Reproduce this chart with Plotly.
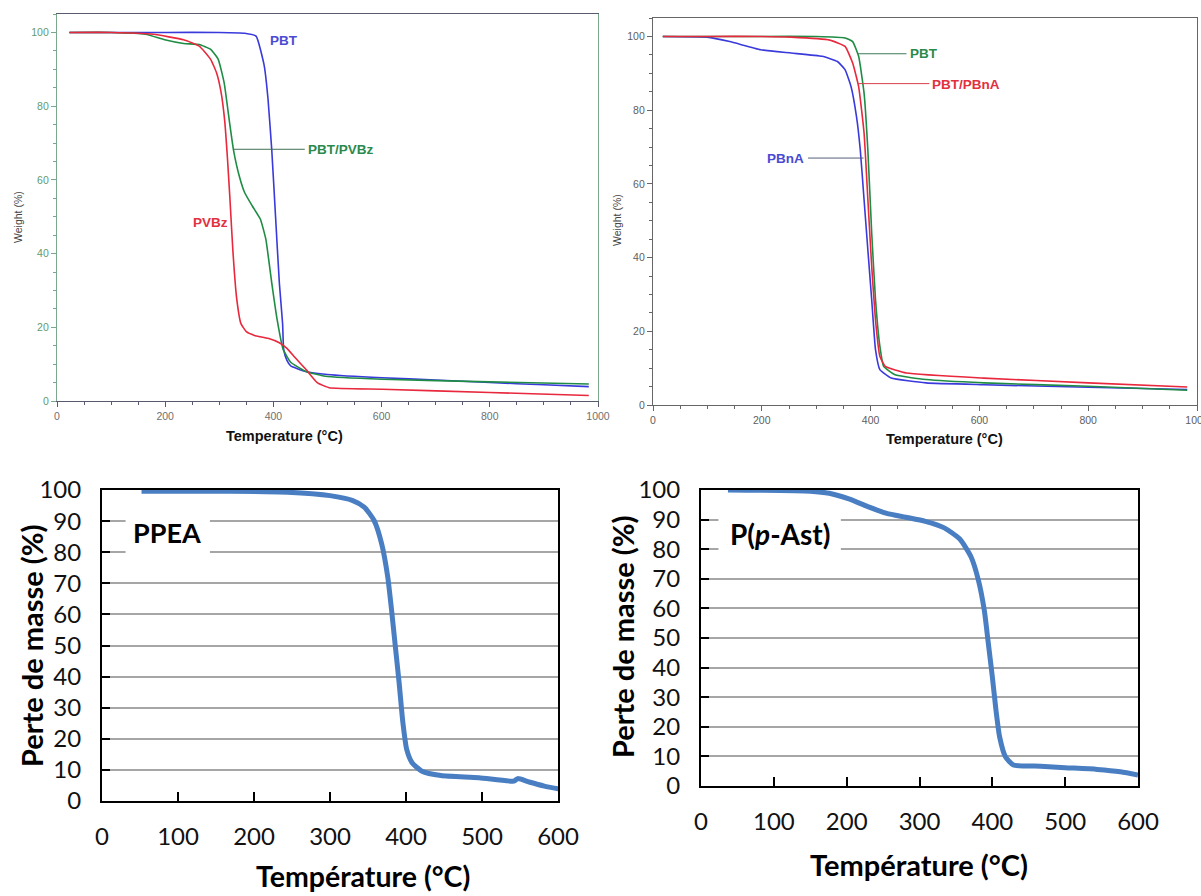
import plotly.graph_objects as go

W, H = 1201, 896

# ---------------- data ----------------
# Top-left panel
p1_pbt_T = [23, 100, 200, 300, 347, 368, 383, 390, 397, 404, 411, 417, 419, 425, 432, 460, 500, 601, 700, 800, 900, 983]
p1_pbt_W = [100, 100, 100, 100, 99.8, 99, 91, 82, 68, 50, 32, 21, 14, 11, 9.5, 8, 7.2, 6.3, 5.7, 5, 4.4, 3.9]
p1_blend_T = [23, 100, 164, 199, 234, 263, 284, 298, 309, 319, 326, 337, 347, 361, 376, 386, 397, 407, 418, 432, 460, 496, 601, 800, 983]
p1_blend_W = [100, 100, 99.5, 98, 97, 96.7, 95.4, 92.7, 86.3, 75.5, 68.3, 61, 56.5, 52.9, 49.3, 43.9, 32, 22, 14, 10.5, 8, 6.7, 5.9, 5.2, 4.6]
p1_pvbz_T = [23, 100, 178, 234, 263, 284, 295, 303, 310, 315, 320, 325, 332, 340, 350, 365, 390, 411, 425, 440, 460, 481, 503, 601, 800, 983]
p1_pvbz_W = [100, 100, 99.5, 98, 96.3, 92.7, 89, 84, 76, 66, 54, 41, 28, 21, 18.8, 17.8, 17, 15.8, 14.3, 11.8, 8.6, 5, 3.6, 3.2, 2.3, 1.5]

# Top-right panel
p2_pbt_T = [18, 100, 200, 300, 353, 367, 378, 388, 395, 402, 409, 417, 424, 445, 502, 608, 800, 982]
p2_pbt_W = [100, 100, 100, 100, 99.6, 98.6, 94.6, 84.6, 69, 46.7, 28.6, 16, 10.5, 8.2, 6.9, 6, 5.1, 4]
p2_blend_T = [18, 100, 200, 254, 325, 353, 367, 378, 388, 395, 402, 409, 417, 427, 466, 608, 800, 982]
p2_blend_W = [100, 100, 100, 99.8, 99, 97.3, 92.8, 86.4, 73.8, 55.7, 37.6, 23, 13.2, 10.5, 8.7, 7.3, 6, 4.9]
p2_pbna_T = [18, 99, 141, 198, 254, 311, 339, 353, 364, 374, 381, 388, 395, 402, 409, 417, 438, 502, 608, 800, 982]
p2_pbna_W = [100, 99.8, 98.6, 96.4, 95.5, 94.6, 93.2, 91, 86.4, 78.3, 69.3, 55.7, 42, 28.6, 15, 9.6, 7.3, 6, 5.5, 4.8, 4.2]

# Bottom-left panel (PPEA)
ppea_T = [52, 169, 244, 300, 330, 345, 358, 368, 376, 381, 386, 391, 396, 401, 408, 421, 446, 496, 542, 547, 562, 582, 601]
ppea_W = [99.6, 99.6, 99.3, 98.2, 96.6, 94.5, 90.2, 82.7, 72, 61.4, 49.6, 37.9, 25, 16.5, 12.3, 9.6, 8.2, 7.5, 6.4, 7.2, 6.1, 4.8, 3.9]

# Bottom-right panel (P(p-Ast))
past_T = [37, 150, 176, 203, 229, 255, 281, 308, 334, 355, 371, 381, 389, 394, 400, 405, 410, 418, 429, 466, 500, 544, 576, 600]
past_W = [100, 99.6, 98.9, 97, 94.4, 92.1, 90.8, 89.4, 87.2, 83.5, 77.3, 69.4, 59.3, 49.2, 36.9, 25.6, 16.6, 9.9, 7.1, 6.7, 6.2, 5.6, 4.8, 3.7]

top_xticks = [0, 200, 400, 600, 800, 1000]
top_yticks = [0, 20, 40, 60, 80, 100]
bot_xticks = [0, 100, 200, 300, 400, 500, 600]
bot_yticks = [0, 10, 20, 30, 40, 50, 60, 70, 80, 90, 100]

# ---------------- helpers ----------------
def px(x):
    return x / W

def py(y):
    return 1 - y / H

ARIAL = "Liberation Sans, Arial, sans-serif"
CAL = "Lato, Open Sans, sans-serif"

fig = go.Figure()

BLUE = "#3a3adc"
GREEN = "#1f8c45"
RED = "#e8283c"
XLBLUE = "#4a7ec2"

def line(x, y, color, xa, ya, width=1.6, smooth=0.4):
    fig.add_trace(go.Scatter(x=x, y=y, mode="lines",
                             line=dict(color=color, width=width, shape="spline", smoothing=smooth),
                             xaxis=xa, yaxis=ya, showlegend=False, hoverinfo="skip"))

line(p1_pbt_T, p1_pbt_W, BLUE, "x", "y")
line(p1_blend_T, p1_blend_W, GREEN, "x", "y")
line(p1_pvbz_T, p1_pvbz_W, RED, "x", "y")

line(p2_pbna_T, p2_pbna_W, BLUE, "x2", "y2")
line(p2_pbt_T, p2_pbt_W, GREEN, "x2", "y2")
line(p2_blend_T, p2_blend_W, RED, "x2", "y2")

line(ppea_T, ppea_W, XLBLUE, "x3", "y3", width=5, smooth=0.6)
line(past_T, past_W, XLBLUE, "x4", "y4", width=5, smooth=0.6)

def top_x(domain, ycol, lcol):
    return dict(domain=domain, range=[0, 1000], tickvals=top_xticks, ticks="outside", ticklen=5,
                tickwidth=1, tickcolor=lcol, showline=True, linecolor=lcol, linewidth=1.2, mirror=True,
                showgrid=False, zeroline=False, automargin=False, ticklabeloverflow="allow",
                tickfont=dict(family=ARIAL, size=10.5, color=ycol),
                minor=dict(dtick=50, ticks="outside", ticklen=3, tickcolor=lcol))

def top_y(domain, ycol, lcol):
    return dict(domain=domain, range=[0, 105], tickvals=top_yticks, ticks="outside", ticklen=5,
                tickwidth=1, tickcolor=lcol, showline=True, linecolor=lcol, linewidth=1.2, mirror=True,
                showgrid=False, zeroline=False, automargin=False,
                tickfont=dict(family=ARIAL, size=10.5, color=ycol),
                minor=dict(dtick=5, ticks="outside", ticklen=3, tickcolor=lcol))

def bot_x(domain):
    return dict(domain=domain, range=[0, 600], tickvals=bot_xticks, ticks="inside", ticklen=9,
                tickwidth=2, tickcolor="black", showline=True, linecolor="black", linewidth=2, mirror=True,
                showgrid=False, zeroline=False, ticklabelstandoff=13, automargin=False,
                ticklabeloverflow="allow",
                tickfont=dict(family=CAL, size=24, color="#111"))

def bot_y(domain):
    return dict(domain=domain, range=[0, 100], tickvals=bot_yticks, ticks="inside", ticklen=8,
                tickwidth=2, tickcolor="black", showline=True, linecolor="black", linewidth=2, mirror=True,
                showgrid=True, gridcolor="#a6a6a6", gridwidth=2, zeroline=False, ticklabelstandoff=14,
                automargin=False, tickfont=dict(family=CAL, size=24, color="#111"))

layout = dict(
    width=W, height=H, margin=dict(l=0, r=0, t=0, b=0, autoexpand=False),
    paper_bgcolor="white", plot_bgcolor="white", showlegend=False,
    xaxis=dict(top_x([px(57), px(598)], "#707070", "#5a5a6e"), anchor="y"),
    yaxis=dict(top_y([py(401), py(14)], "#5f9a72", "#7aa88c"), anchor="x"),
    xaxis2=dict(top_x([px(653), px(1197)], "#606060", "#666666"), anchor="y2"),
    yaxis2=dict(top_y([py(405), py(18)], "#606060", "#666666"), anchor="x2"),
    xaxis3=dict(bot_x([px(102), px(558)]), anchor="y3"),
    yaxis3=dict(bot_y([py(801), py(490)]), anchor="x3"),
    xaxis4=dict(bot_x([px(701), px(1138)]), anchor="y4"),
    yaxis4=dict(bot_y([py(786), py(490)]), anchor="x4"),
)
fig.update_layout(**layout)

ann = []
shapes = []

def A(**kw):
    kw.setdefault("xanchor", "center")
    kw.setdefault("yanchor", "middle")
    kw.setdefault("showarrow", False)
    ann.append(kw)

LBL = 13.5

# ---- Top-left labels ----
A(xref="x", yref="y", x=419, y=97.8, text="<b>PBT</b>",
  font=dict(family=ARIAL, size=LBL, color="#4a4ad2"))
A(xref="x", yref="y", x=461, y=68.3, text="<b>PBT/PVBz</b>", xanchor="left",
  font=dict(family=ARIAL, size=LBL, color="#2a8a4c"))
shapes.append(dict(type="line", xref="x", yref="y", x0=326, x1=458, y0=68.3, y1=68.3,
                   line=dict(color="#3f6f55", width=1)))
A(xref="x", yref="y", x=283, y=48.4, text="<b>PVBz</b>",
  font=dict(family=ARIAL, size=LBL, color="#e2303e"))

# ---- Top-right labels ----
A(xref="x2", yref="y2", x=468, y=95.3, text="<b>PBT</b>", xanchor="left",
  font=dict(family=ARIAL, size=LBL, color="#2a8a4c"))
shapes.append(dict(type="line", xref="x2", yref="y2", x0=377, x1=466, y0=95.3, y1=95.3,
                   line=dict(color="#3f7a5a", width=1)))
A(xref="x2", yref="y2", x=510, y=87.0, text="<b>PBT/PBnA</b>", xanchor="left",
  font=dict(family=ARIAL, size=LBL, color="#e2303e"))
shapes.append(dict(type="line", xref="x2", yref="y2", x0=377, x1=508, y0=87.2, y1=87.2,
                   line=dict(color="#d8404a", width=1)))
A(xref="x2", yref="y2", x=281, y=66.8, text="<b>PBnA</b>", xanchor="right",
  font=dict(family=ARIAL, size=LBL, color="#4a4ad2"))
shapes.append(dict(type="line", xref="x2", yref="y2", x0=285, x1=387, y0=67.0, y1=67.0,
                   line=dict(color="#56607a", width=1)))

# Axis titles top
A(xref="paper", yref="paper", x=px(284), y=py(436), text="<b>Temperature (°C)</b>",
  font=dict(family=ARIAL, size=14.5, color="#111"))
A(xref="paper", yref="paper", x=px(944), y=py(439), text="<b>Temperature (°C)</b>",
  font=dict(family=ARIAL, size=14.5, color="#111"))
A(xref="paper", yref="paper", x=px(18), y=py(217), text="Weight (%)", textangle=-90,
  font=dict(family=ARIAL, size=10.5, color="#444"))
A(xref="paper", yref="paper", x=px(617), y=py(220), text="Weight (%)", textangle=-90,
  font=dict(family=ARIAL, size=10.5, color="#444"))

# ---- Bottom labels ----
shapes.append(dict(type="rect", xref="x3", yref="y3", x0=31, x1=142, y0=79.4, y1=90.6,
                   fillcolor="white", line=dict(width=0), layer="above"))
A(xref="x3", yref="y3", x=86, y=86.4, text="<b>PPEA</b>",
  font=dict(family=CAL, size=27, color="black"))
shapes.append(dict(type="rect", xref="x4", yref="y4", x0=24, x1=192, y0=79.4, y1=90.6,
                   fillcolor="white", line=dict(width=0), layer="above"))
A(xref="x4", yref="y4", x=108, y=85.2, text="<b>P(<i>p</i>-Ast)</b>",
  font=dict(family=CAL, size=28, color="black"))

A(xref="paper", yref="paper", x=px(363), y=py(876), text="<b>Température (°C)</b>",
  font=dict(family=CAL, size=28.5, color="black"))
A(xref="paper", yref="paper", x=px(919), y=py(864), text="<b>Température (°C)</b>",
  font=dict(family=CAL, size=29, color="black"))
A(xref="paper", yref="paper", x=px(31), y=py(646), text="<b>Perte de masse (%)</b>",
  textangle=-90, font=dict(family=CAL, size=29, color="black"))
A(xref="paper", yref="paper", x=px(622), y=py(637), text="<b>Perte de masse (%)</b>",
  textangle=-90, font=dict(family=CAL, size=29, color="black"))

fig.update_layout(annotations=ann, shapes=shapes)
fig.write_html("out.html", config={"displayModeBar": False},
               post_script="document.body.style.margin='0px';document.body.style.overflow='hidden';")
